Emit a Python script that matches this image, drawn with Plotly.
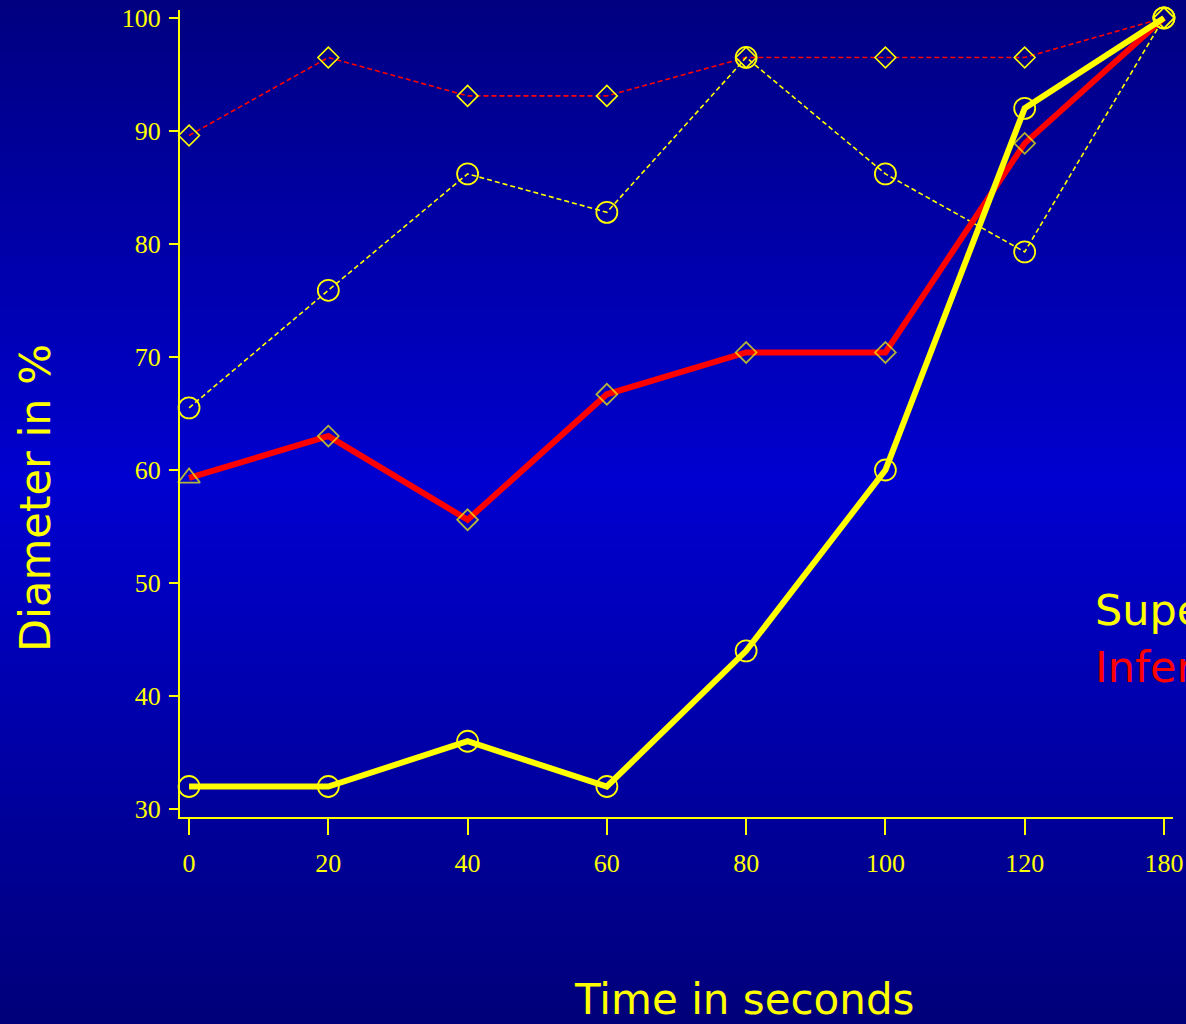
import plotly.graph_objects as go

# Time points (seconds); the last measurement is taken at 180 s
time_labels = ["0", "20", "40", "60", "80", "100", "120", "180"]

# Vessel diameter in % of the final value
superior_solid = [32.0, 32.0, 36.0, 32.0, 44.0, 60.0, 92.0, 100.0]
inferior_solid = [59.3, 63.0, 55.6, 66.7, 70.4, 70.4, 88.9, 100.0]
superior_dashed = [65.5, 75.9, 86.2, 82.8, 96.5, 86.2, 79.3, 100.0]
inferior_dashed = [89.6, 96.5, 93.1, 93.1, 96.5, 96.5, 96.5, 100.0]

y_ticks = [30, 40, 50, 60, 70, 80, 90, 100]

YELLOW = "#FFFF00"
RED = "#FF0000"

W, H = 1186, 1024

fig = go.Figure()

fig.add_trace(go.Scatter(
    x=time_labels, y=inferior_dashed, mode="lines+markers",
    line=dict(color=RED, width=1.6, dash="5px,3px"),
    marker=dict(symbol="diamond-open", size=16, color=YELLOW, line=dict(width=1.6, color=YELLOW)),
    showlegend=False, cliponaxis=False,
))
fig.add_trace(go.Scatter(
    x=time_labels, y=superior_dashed, mode="lines+markers",
    line=dict(color=YELLOW, width=1.6, dash="5px,3px"),
    marker=dict(symbol="circle-open", size=21, color=YELLOW, line=dict(width=1.8, color=YELLOW)),
    showlegend=False, cliponaxis=False,
))
fig.add_trace(go.Scatter(
    x=time_labels, y=inferior_solid, mode="lines+markers",
    line=dict(color=RED, width=6),
    marker=dict(symbol=["triangle-up-open"] + ["diamond-open"] * 7, size=[19] + [16] * 7,
                color=YELLOW, line=dict(width=1.8, color=YELLOW)),
    showlegend=False, cliponaxis=False,
))
fig.add_trace(go.Scatter(
    x=time_labels, y=superior_solid, mode="lines+markers",
    line=dict(color=YELLOW, width=6),
    marker=dict(symbol="circle-open", size=21, color=YELLOW, line=dict(width=1.8, color=YELLOW)),
    showlegend=False, cliponaxis=False,
))

# Vertical blue gradient behind the whole figure
stops = [(0.0, (0, 0, 128)), (0.47, (0, 0, 208)), (1.0, (0, 0, 122))]
bands = 80
shapes = []
for i in range(bands):
    t = (i + 0.5) / bands
    for (p0, c0), (p1, c1) in zip(stops[:-1], stops[1:]):
        if p0 <= t <= p1:
            f = (t - p0) / (p1 - p0)
            col = tuple(round(a + (b - a) * f) for a, b in zip(c0, c1))
            break
    top = 1 - i / bands + (0.02 if i == 0 else 0)
    bottom = 1 - (i + 1) / bands - (0.02 if i == bands - 1 else 0.002)
    shapes.append(dict(
        type="rect", xref="paper", yref="paper", layer="below",
        x0=-0.02, x1=1.02, y0=bottom, y1=top,
        fillcolor="rgb(%d,%d,%d)" % col, line=dict(width=0),
    ))

tick_font = dict(family="Liberation Serif", size=26, color=YELLOW)
title_font = "DejaVu Sans"

fig.update_layout(
    width=W, height=H,
    margin=dict(l=0, r=0, t=0, b=0, pad=0, autoexpand=False),
    paper_bgcolor="rgb(0,0,128)",
    plot_bgcolor="rgba(0,0,0,0)",
    shapes=shapes,
    xaxis=dict(
        type="category", range=[-0.065, 7.065],
        domain=[180 / W, 1173 / W], automargin=False,
        showgrid=False, zeroline=False,
        showline=True, linecolor=YELLOW, linewidth=2,
        ticks="outside", ticklen=16, tickwidth=2, tickcolor=YELLOW,
        tickfont=tick_font, ticklabelstandoff=6,
    ),
    yaxis=dict(
        range=[29.3, 100.7], tickvals=y_ticks,
        domain=[1 - 817 / H, 1 - 10 / H], automargin=False,
        showgrid=False, zeroline=False,
        showline=True, linecolor=YELLOW, linewidth=2,
        ticks="outside", ticklen=9, tickwidth=2, tickcolor=YELLOW,
        tickfont=tick_font, ticklabelstandoff=3,
    ),
    annotations=[
        dict(text="Time in seconds", xref="paper", yref="paper",
             x=744 / W, y=1 - 999 / H, xanchor="center", yanchor="middle",
             showarrow=False, font=dict(family=title_font, size=42, color=YELLOW)),
        dict(text="Diameter in %", xref="paper", yref="paper",
             x=35 / W, y=1 - 498 / H, xanchor="center", yanchor="middle", textangle=-90,
             showarrow=False, font=dict(family=title_font, size=43, color=YELLOW)),
        dict(text="Superior", xref="paper", yref="paper",
             x=1093 / W, y=1 - 610 / H, xanchor="left", yanchor="middle",
             showarrow=False, font=dict(family=title_font, size=43, color=YELLOW)),
        dict(text="Inferior", xref="paper", yref="paper",
             x=1093 / W, y=1 - 667 / H, xanchor="left", yanchor="middle",
             showarrow=False, font=dict(family=title_font, size=43, color=RED)),
    ],
)

fig.write_html("out.html")
